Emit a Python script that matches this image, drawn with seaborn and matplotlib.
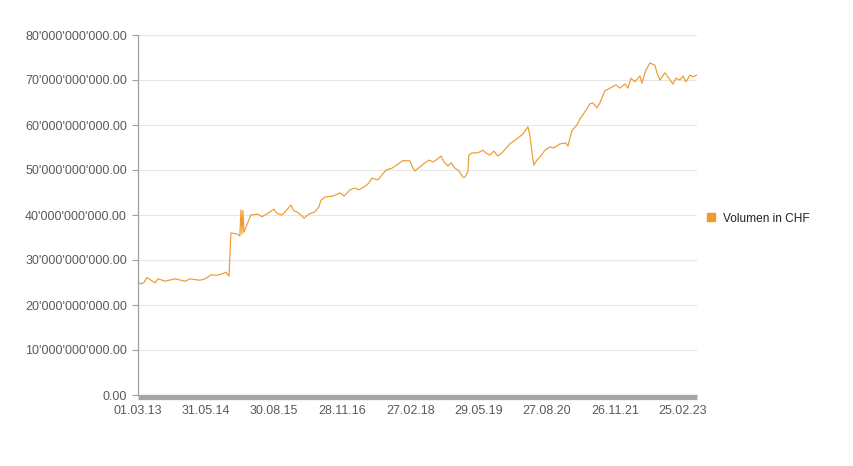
import matplotlib
matplotlib.use("Agg")
import matplotlib.pyplot as plt
import matplotlib.ticker as mticker
from matplotlib.lines import Line2D
import pandas as pd
import seaborn as sns

dates = [
    "2013-03-01", "2013-03-21", "2013-04-10", "2013-04-30", "2013-05-27", "2013-06-23",
    "2013-07-13", "2013-08-29", "2013-11-04", "2014-01-10", "2014-02-12", "2014-04-20",
    "2014-05-24", "2014-07-03", "2014-08-12", "2014-09-14", "2014-10-11", "2014-10-31",
    "2014-11-13", "2014-12-24", "2015-01-12", "2015-01-19", "2015-01-26", "2015-02-01",
    "2015-02-08", "2015-02-28", "2015-03-27", "2015-05-13", "2015-06-09", "2015-07-19",
    "2015-08-28", "2015-09-17", "2015-10-21", "2015-11-10", "2015-12-20", "2016-01-09",
    "2016-01-29", "2016-02-18", "2016-03-16", "2016-04-18", "2016-05-28", "2016-06-24",
    "2016-07-08", "2016-08-04", "2016-09-26", "2016-11-12", "2016-12-09", "2017-01-18",
    "2017-02-20", "2017-03-19", "2017-04-21", "2017-05-25", "2017-06-14", "2017-07-24",
    "2017-09-16", "2017-10-26", "2017-12-05", "2018-01-08", "2018-02-24", "2018-03-16",
    "2018-03-29", "2018-05-01", "2018-06-04", "2018-07-01", "2018-07-27", "2018-08-17",
    "2018-09-19", "2018-10-09", "2018-11-05", "2018-11-25", "2018-12-22", "2019-01-17",
    "2019-02-13", "2019-02-26", "2019-03-18", "2019-03-25", "2019-04-14", "2019-05-24",
    "2019-06-27", "2019-07-17", "2019-08-12", "2019-09-08", "2019-10-05", "2019-11-07",
    "2019-12-24", "2020-02-16", "2020-03-21", "2020-04-23", "2020-05-06", "2020-05-27",
    "2020-06-02", "2020-06-22", "2020-07-13", "2020-08-15", "2020-09-17", "2020-10-14",
    "2020-11-23", "2021-01-02", "2021-01-16", "2021-02-11", "2021-03-17", "2021-04-06",
    "2021-05-09", "2021-06-12", "2021-07-02", "2021-07-29", "2021-08-18", "2021-09-20",
    "2021-10-24", "2021-12-03", "2021-12-29", "2022-02-01", "2022-02-22", "2022-03-14",
    "2022-04-09", "2022-05-13", "2022-05-26", "2022-06-22", "2022-07-19", "2022-08-21",
    "2022-09-04", "2022-09-24", "2022-10-27", "2022-11-16", "2022-12-20", "2023-01-09",
    "2023-02-05", "2023-02-25", "2023-03-17", "2023-04-13", "2023-05-03", "2023-05-30",
]

# Volume in billions CHF
volume_bn = [
    25.0, 24.7, 25.0, 26.1, 25.5, 24.9,
    25.8, 25.3, 25.8, 25.3, 25.8, 25.5,
    25.8, 26.7, 26.6, 26.9, 27.3, 26.4,
    36.0, 35.8, 35.3, 41.1, 35.8, 41.0,
    36.2, 37.8, 40.0, 40.2, 39.6, 40.4,
    41.3, 40.4, 40.0, 40.7, 42.2, 40.9,
    40.7, 40.2, 39.3, 40.2, 40.7, 41.8,
    43.3, 44.0, 44.2, 44.9, 44.2, 45.6,
    46.0, 45.6, 46.2, 47.1, 48.2, 47.8,
    50.0, 50.4, 51.3, 52.1, 52.0, 50.4,
    49.8, 50.7, 51.6, 52.2, 51.8, 52.2,
    53.1, 51.8, 50.9, 51.6, 50.4, 49.8,
    48.4, 48.4, 49.6, 53.3, 53.8, 53.8,
    54.4, 53.8, 53.3, 54.2, 53.1, 54.0,
    55.8, 57.1, 58.0, 59.6, 57.8, 52.2,
    51.1, 52.2, 52.9, 54.4, 55.1, 54.9,
    55.8, 56.0, 55.3, 58.7, 60.0, 61.3,
    62.9, 64.7, 64.9, 63.8, 64.9, 67.6,
    68.2, 68.9, 68.2, 69.1, 68.2, 70.4,
    69.6, 70.9, 69.3, 72.2, 73.8, 73.3,
    71.6, 70.0, 71.6, 70.7, 69.1, 70.4,
    70.0, 70.9, 69.6, 71.1, 70.7, 71.1,
]

x_tick_labels = ["01.03.13", "31.05.14", "30.08.15", "28.11.16", "27.02.18",
                 "29.05.19", "27.08.20", "26.11.21", "25.02.23"]
y_ticks = [0, 10e9, 20e9, 30e9, 40e9, 50e9, 60e9, 70e9, 80e9]
series_name = "Volumen in CHF"

df = pd.DataFrame({
    "Datum": pd.to_datetime(dates),
    "Volumen": [v * 1e9 for v in volume_bn],
})

sns.set_style("white")
plt.rcParams["font.family"] = ["Liberation Sans", "DejaVu Sans"]

color = "#EE9A2E"
fig = plt.figure(figsize=(8.54, 4.66), dpi=100)
ax = fig.add_axes([138 / 854, 1 - 395 / 466, (697 - 138) / 854, 360 / 466])

sns.lineplot(data=df, x="Datum", y="Volumen", ax=ax, color=color, linewidth=0.85)

ax.set_ylim(0, 80e9)
ax.set_xlim(pd.Timestamp("2013-03-01"), pd.Timestamp("2023-05-30"))
ax.set_yticks(y_ticks)
ax.yaxis.set_major_formatter(
    mticker.FuncFormatter(lambda v, p: f"{v:,.2f}".replace(",", "'")))
tick_pos = pd.to_datetime(x_tick_labels, format="%d.%m.%y")
ax.set_xticks(tick_pos)
ax.set_xticklabels(x_tick_labels)

ax.grid(axis="y", color="#e6e6e6", linewidth=0.8)
ax.set_axisbelow(True)
ax.set_xlabel("")
ax.set_ylabel("")

for s in ["top", "right"]:
    ax.spines[s].set_visible(False)
ax.spines["left"].set_color("#a0a0a0")
ax.spines["left"].set_linewidth(0.9)
ax.spines["bottom"].set_color("#a6a6a6")
ax.spines["bottom"].set_linewidth(3.8)
ax.spines["bottom"].set_position(("outward", 1.5))
ax.spines["bottom"].set_capstyle("butt")

ax.tick_params(axis="y", which="major", left=True, length=4, width=0.8,
               color="#a0a0a0", labelsize=9, labelcolor="#5a5a5a", pad=4)
ax.tick_params(axis="x", which="major", bottom=False, length=0,
               labelsize=9, labelcolor="#5a5a5a", pad=6)

handle = Line2D([], [], marker="s", linestyle="none", color=color, markersize=6)
ax.legend([handle], [series_name], loc="center left", bbox_to_anchor=(1.003, 0.49),
          frameon=False, fontsize=8.6, handletextpad=0.45, borderaxespad=0.0,
          handlelength=1.2, labelcolor="#222222")

fig.savefig("out.png", dpi=100, facecolor="white")
